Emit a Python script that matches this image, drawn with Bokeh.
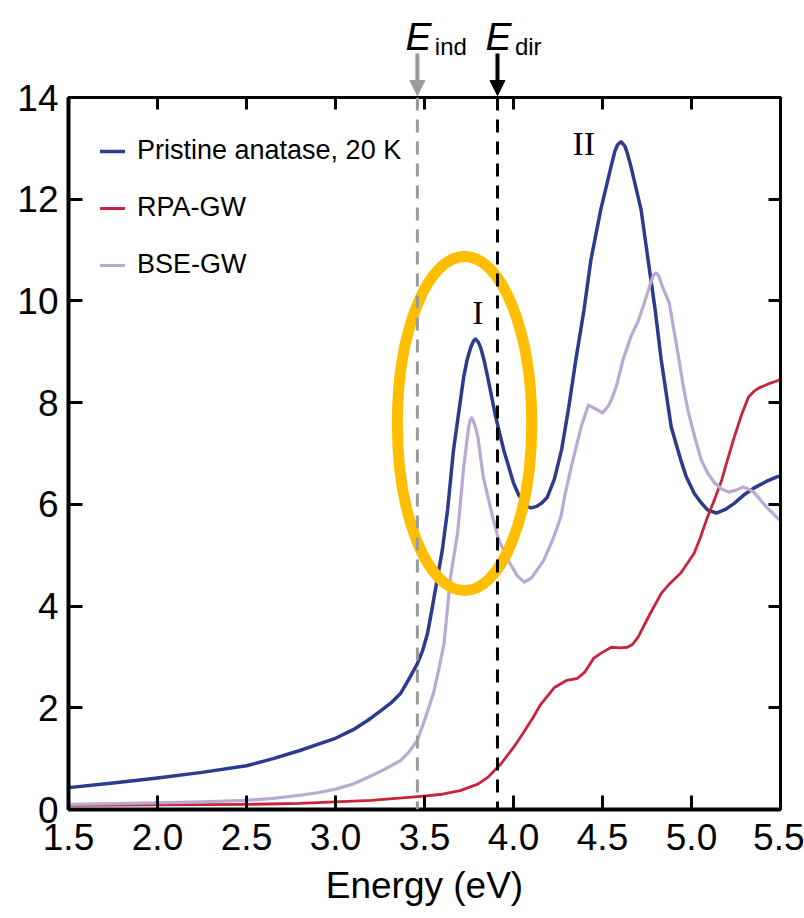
from bokeh.plotting import figure
from bokeh.layouts import column
from bokeh.models import (Span, Label, Arrow, NormalHead, LinearAxis, FixedTicker,
                          Legend, LegendItem, Range1d)
from bokeh.core.properties import value
from bokeh.embed import file_html
from bokeh.resources import INLINE

# ---------------- data ----------------
pristine_E = [1.5, 1.75, 2.0, 2.25, 2.5, 2.65, 2.8, 2.9, 3.0, 3.1, 3.18, 3.25, 3.31,
              3.365, 3.41, 3.46, 3.49, 3.517, 3.54, 3.57, 3.6, 3.63,
              3.663, 3.72, 3.74, 3.76, 3.775, 3.787, 3.80, 3.815, 3.835, 3.855, 3.9,
              3.945, 4.0, 4.03, 4.075, 4.098, 4.13, 4.16, 4.19, 4.23, 4.27, 4.31, 4.35,
              4.396, 4.435, 4.49, 4.548, 4.57, 4.585, 4.604, 4.625, 4.64, 4.66, 4.717,
              4.756, 4.796, 4.83, 4.886, 4.94, 4.97, 5.015, 5.05, 5.09, 5.14, 5.19, 5.24,
              5.3, 5.35, 5.42, 5.48, 5.5]
pristine_A = [0.43, 0.52, 0.62, 0.73, 0.86, 1.0, 1.16, 1.28, 1.40, 1.57, 1.75, 1.93, 2.09,
              2.28, 2.55, 2.87, 3.13, 3.46, 3.9, 4.5, 5.1, 5.9,
              7.07, 8.5, 8.85, 9.09, 9.21, 9.25, 9.20, 9.09, 8.83, 8.5, 7.72,
              7.07, 6.42, 6.18, 5.96, 5.93, 5.96, 6.03, 6.14, 6.5, 7.07, 7.9, 8.84,
              9.82, 10.81, 11.79, 12.64, 12.95, 13.07, 13.13, 13.05, 12.9, 12.64, 11.79,
              10.81, 9.82, 8.84, 7.52, 6.87, 6.55, 6.22, 6.05, 5.89, 5.83, 5.9, 6.02,
              6.2, 6.32, 6.45, 6.54, 6.56]

rpa_E = [1.5, 2.0, 2.5, 2.8, 3.2, 3.48, 3.6, 3.7, 3.8, 3.855, 3.93, 4.0, 4.05, 4.11,
         4.15, 4.23, 4.3, 4.36, 4.4, 4.45, 4.49, 4.55, 4.6, 4.64, 4.67, 4.7, 4.76,
         4.83, 4.88, 4.94, 5.015, 5.05, 5.09, 5.13, 5.17, 5.2, 5.24, 5.28, 5.32, 5.35,
         5.38, 5.44, 5.49, 5.5]
rpa_A = [0.08, 0.09, 0.10, 0.12, 0.18, 0.26, 0.30, 0.37, 0.50, 0.63, 0.90, 1.22, 1.48,
         1.81, 2.05, 2.40, 2.54, 2.58, 2.70, 2.97, 3.07, 3.19, 3.18, 3.19, 3.25, 3.39,
         3.80, 4.25, 4.45, 4.65, 5.04, 5.35, 5.75, 6.10, 6.48, 6.85, 7.32, 7.75, 8.11,
         8.22, 8.29, 8.38, 8.44, 8.46]

bse_E = [1.5, 2.0, 2.25, 2.5, 2.65, 2.8, 2.9, 3.0, 3.1, 3.18, 3.27, 3.365, 3.41, 3.46,
         3.5, 3.55, 3.58, 3.61, 3.646, 3.686, 3.72,
         3.748, 3.757, 3.765, 3.775, 3.79, 3.8, 3.83, 3.883, 3.917, 3.97, 4.02, 4.06,
         4.1, 4.17, 4.22, 4.266, 4.29, 4.32, 4.35, 4.38, 4.42, 4.46, 4.5, 4.53, 4.55,
         4.58, 4.615, 4.66, 4.70, 4.735, 4.77, 4.785,
         4.80, 4.815, 4.835, 4.85, 4.875, 4.93, 4.955, 4.98, 5.02, 5.055, 5.09, 5.13,
         5.17, 5.21, 5.25, 5.29, 5.32, 5.35, 5.42, 5.49, 5.5]
bse_A = [0.10, 0.13, 0.15, 0.18, 0.22, 0.28, 0.33, 0.40, 0.50, 0.63, 0.78, 0.96, 1.12,
         1.36, 1.75, 2.28, 2.75, 3.27, 4.57, 5.43, 6.73,
         7.52, 7.65, 7.70, 7.64, 7.47, 7.32, 6.54, 5.75, 5.30, 4.90, 4.60, 4.47,
         4.55, 4.90, 5.30, 5.75, 6.20, 6.67, 7.10, 7.52, 7.95, 7.88, 7.80, 7.92, 8.05,
         8.35, 8.84, 9.30, 9.60, 9.96, 10.35, 10.50,
         10.55, 10.50, 10.30, 10.17, 9.96, 8.84, 8.30, 7.85, 7.30, 6.87, 6.62, 6.42,
         6.30, 6.24, 6.28, 6.34, 6.30, 6.24, 5.95, 5.71, 5.68]

series_names = ["Pristine anatase, 20 K", "RPA-GW", "BSE-GW"]
series_colors = ["#2E3A8C", "#C8233A", "#B9A9D3"]

E_ind = 3.46
E_dir = 3.91
gap_names = ["ind", "dir"]
gap_colors = ["#9A9A9A", "black"]

x_ticks = [1.5, 2.0, 2.5, 3.0, 3.5, 4.0, 4.5, 5.0, 5.5]
x_tick_labels = ["1.5", "2.0", "2.5", "3.0", "3.5", "4.0", "4.5", "5.0", "5.5"]
y_ticks = [0, 2, 4, 6, 8, 10, 12, 14]

peak_labels = ["I", "II"]
peak_E = [3.80, 4.395]
peak_A = [9.78, 13.10]

ellipse_center = (3.725, 7.59)
ellipse_size = (0.755, 6.57)

FONT = "Liberation Sans"
TOP_H = 97      # height of the strip above the frame
OVERLAP = 22    # main figure's own top border, overlapping the strip
W = 804
H = 918

# ---------------- main figure ----------------
p = figure(width=W, height=H - TOP_H + OVERLAP, output_backend="svg",
           toolbar_location=None,
           x_range=Range1d(1.5, 5.5), y_range=Range1d(0, 14),
           min_border_left=68, min_border_right=24, min_border_top=OVERLAP,
           min_border_bottom=109)
p.margin = (-OVERLAP, 0, 0, 0)
p.background_fill_color = "white"
p.border_fill_alpha = 0
p.outline_line_color = "black"
p.outline_line_width = 3
p.xgrid.visible = False
p.ygrid.visible = False

xa = p.xaxis[0]
xa.ticker = FixedTicker(ticks=x_ticks)
xa.major_label_overrides = {t: l for t, l in zip(x_ticks, x_tick_labels)}
xa.axis_label = "Energy (eV)"
ya = p.yaxis[0]
ya.ticker = FixedTicker(ticks=y_ticks)
for ax in (xa, ya):
    ax.axis_line_width = 4
    ax.major_tick_line_width = 3
    ax.major_tick_in = 14
    ax.major_tick_out = 0
    ax.minor_tick_line_color = None
    ax.major_label_text_font = FONT
    ax.major_label_text_font_size = "37px"
    ax.major_label_text_color = "black"
    ax.axis_label_text_font = FONT
    ax.axis_label_text_font_size = "37px"
    ax.axis_label_text_font_style = "normal"
    ax.axis_label_text_color = "black"
    ax.major_label_standoff = 10
xa.major_label_standoff = 14
xa.axis_label_standoff = 12

top = LinearAxis(ticker=FixedTicker(ticks=x_ticks), major_label_text_color=None,
                 major_label_text_font_size="0px", major_label_standoff=0,
                 axis_line_width=3, major_tick_line_width=3, major_tick_in=12,
                 major_tick_out=0, minor_tick_line_color=None)
right = LinearAxis(ticker=FixedTicker(ticks=y_ticks), major_label_text_color=None,
                   major_label_text_font_size="0px", major_label_standoff=0,
                   axis_line_width=3, major_tick_line_width=3, major_tick_in=12,
                   major_tick_out=0, minor_tick_line_color=None)
p.add_layout(top, "above")
p.add_layout(right, "right")

for ex, col in zip([E_ind, E_dir], gap_colors):
    p.add_layout(Span(location=ex, dimension="height", line_color=col,
                      line_width=3, line_dash="13 9"))

renderers = []
for xs, ys, c, w in [(pristine_E, pristine_A, series_colors[0], 3.5),
                     (rpa_E, rpa_A, series_colors[1], 2.8),
                     (bse_E, bse_A, series_colors[2], 3.2)]:
    renderers.append(p.line(xs, ys, line_color=c, line_width=w,
                            line_join="round", line_cap="round"))

p.ellipse(x=[ellipse_center[0]], y=[ellipse_center[1]], width=[ellipse_size[0]],
          height=[ellipse_size[1]], fill_color=None, line_color="#FFBF00", line_width=11)

p.text(x=peak_E, y=peak_A, text=peak_labels, text_font=value("Liberation Serif"),
       text_font_size="34px", text_align="center", text_baseline="middle",
       text_color="black")

legend = Legend(items=[LegendItem(label=n, renderers=[r]) for n, r in zip(series_names, renderers)],
                location=(32, 529), orientation="vertical",
                label_text_font=FONT, label_text_font_size="27px",
                label_text_color="black",
                glyph_width=25, glyph_height=24, label_height=24, spacing=26,
                padding=0, margin=0, label_standoff=12,
                border_line_color=None, background_fill_alpha=0)
p.add_layout(legend)

# ---------------- strip above the frame: band-gap arrows and labels ----------------
t = figure(width=W, height=TOP_H, output_backend="svg", toolbar_location=None,
           x_range=p.x_range, y_range=Range1d(TOP_H, 0),
           min_border_left=68, min_border_right=24, min_border_top=0,
           min_border_bottom=0)
t.axis.visible = False
t.xgrid.visible = False
t.ygrid.visible = False
t.outline_line_color = None
t.background_fill_color = "white"
t.border_fill_color = "white"

for ex, col, sub in zip([E_ind, E_dir], gap_colors, gap_names):
    t.add_layout(Arrow(end=NormalHead(size=15, fill_color=col, line_color=col),
                       x_start=ex, y_start=53, x_end=ex, y_end=95,
                       line_color=col, line_width=4))
    t.add_layout(Label(x=ex - 0.067, y=36, text="E", text_font=FONT,
                       text_font_size="39px", text_font_style="italic",
                       text_align="left", text_baseline="alphabetic",
                       text_color="black"))
    t.add_layout(Label(x=ex + 0.098, y=46, text=sub, text_font=FONT,
                       text_font_size="24px", text_align="left",
                       text_baseline="alphabetic", text_color="black"))

layout = column(t, p, spacing=0)
open("out.html", "w").write(file_html(layout, INLINE))
